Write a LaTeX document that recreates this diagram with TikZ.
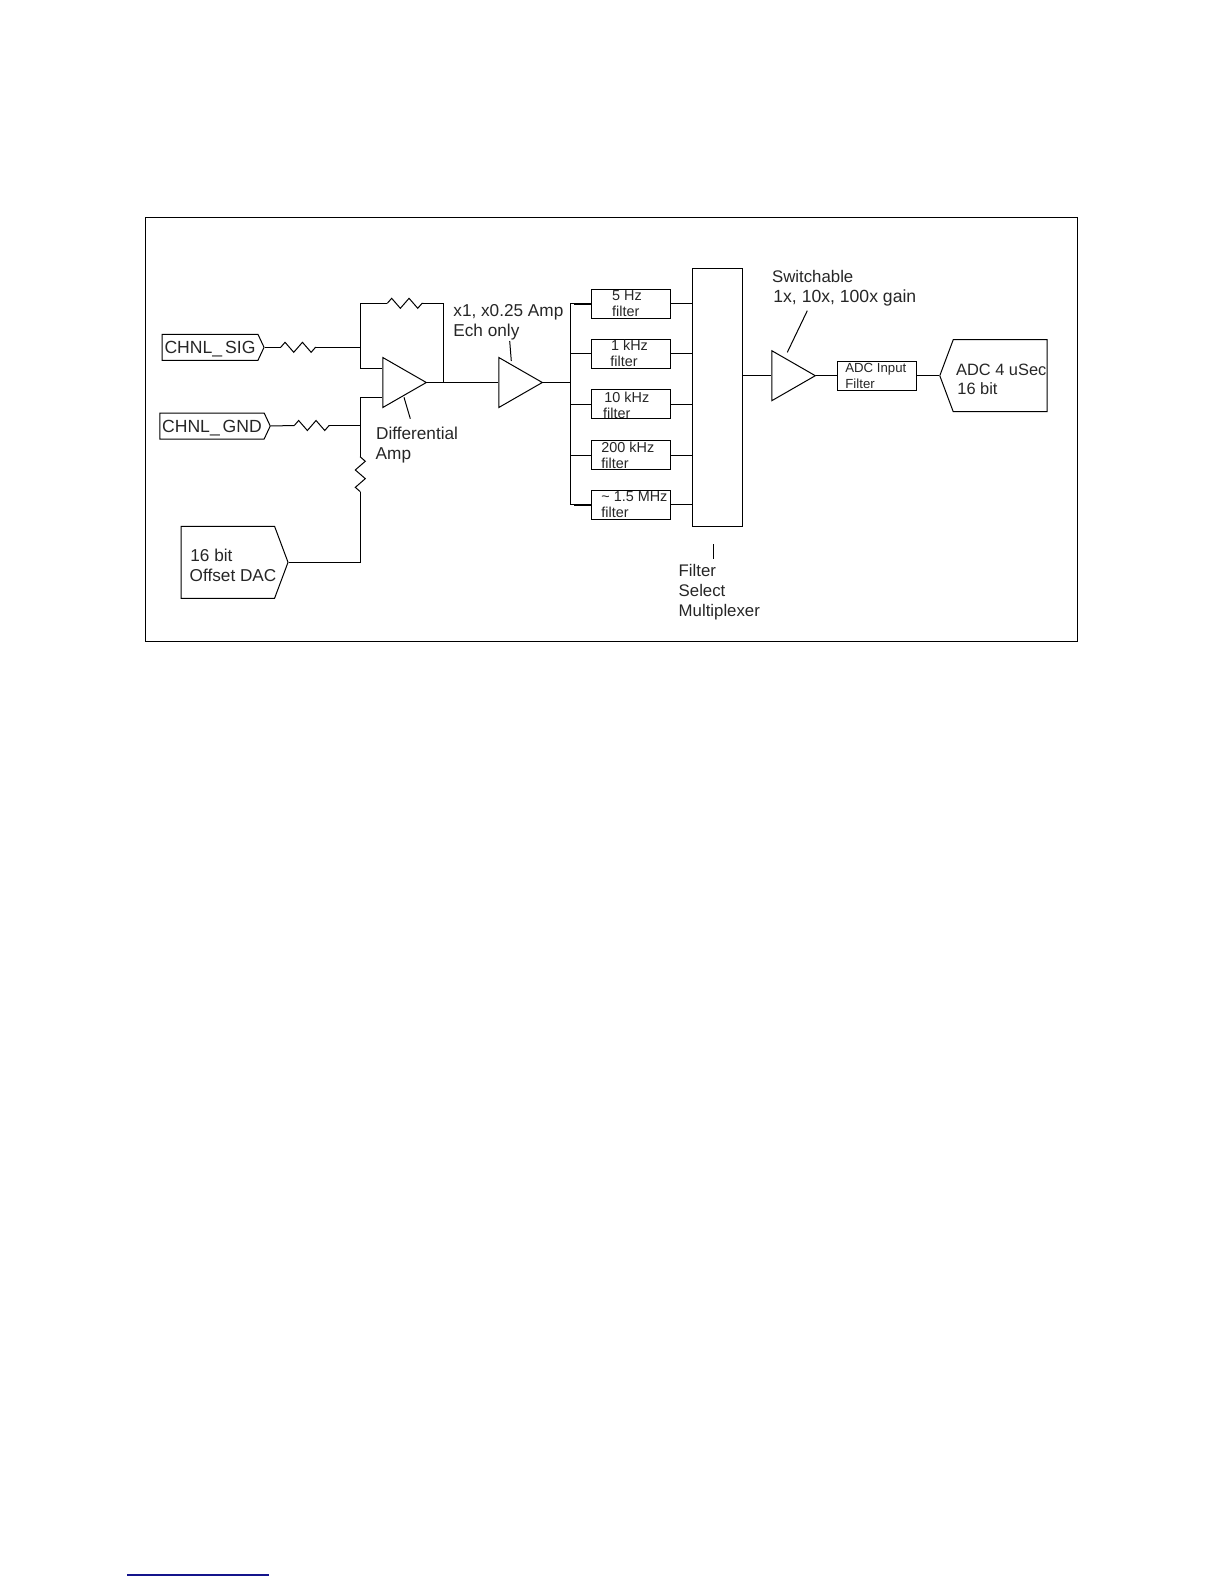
\documentclass[tikz,border=0pt]{standalone}
\usepackage{fontspec}
\setmainfont{Liberation Sans}
\usetikzlibrary{shapes.geometric,shapes.symbols,decorations.pathmorphing}
\definecolor{linkblue}{RGB}{20,20,140}
\tikzset{
  wire/.style={line width=0.5pt},
  res/.style={line width=0.5pt,decorate,decoration={zigzag,segment length=8.7pt,amplitude=2.5pt}},
  amp/.style={draw,line width=0.5pt,isosceles triangle,isosceles triangle apex angle=60,isosceles triangle stretches,
    minimum width=25pt,minimum height=21.75pt,inner sep=0pt,anchor=lower side},
  filterbox/.style={draw,line width=0.5pt,minimum width=39.5pt,minimum height=14.5pt,inner sep=0pt},
  lbl/.style={anchor=west,inner sep=0pt,font=\fontsize{8.6}{10}\selectfont,text height=6pt,text depth=0pt,text=black!85},
  sml/.style={lbl,font=\fontsize{7.2}{8}\selectfont,text height=5pt},
  sig/.style={draw,line width=0.5pt,signal,signal to=east,inner sep=0pt,font=\fontsize{8.8}{10}\selectfont,text height=6pt,text depth=0pt,text=black!85},
}
\begin{document}
\begin{tikzpicture}[x=0.5pt,y=-0.5pt]
\useasboundingbox (0,0) rectangle (1224,1584);
\draw[line width=0.5pt] (145.5,217) rectangle (1077.5,641);
% inputs
\node[sig,minimum width=51pt,minimum height=13pt,signal pointer angle=130] (sigin) at (210,347.3) {CHNL\_\,SIG};
\node[sig,minimum width=55.2pt,minimum height=13pt,signal pointer angle=130] (gndin) at (212,426) {CHNL\_\,GND};
\node[sig,minimum width=53.5pt,minimum height=36pt,signal pointer angle=139] (dac) at (227.8,562.3) {};
\node[lbl] (tdac1) at (190,555) {16 bit};
\node[lbl] (tdac2) at (189.3,575) {Offset DAC};
% resistors
\coordinate (r1a) at (280.7,347.3);
\coordinate (r1b) at (316,347.3);
\coordinate (r2a) at (294.3,425.5);
\coordinate (r2b) at (330,425.5);
\coordinate (r3a) at (360.3,456.7);
\coordinate (r3b) at (360.3,491.7);
\coordinate (r4a) at (387.3,303.3);
\coordinate (r4b) at (423.3,303.3);
\coordinate (j1) at (360.3,347.3);
\coordinate (j2) at (360.3,425.5);
\coordinate (j3) at (443.3,382.5);
\coordinate (fbl) at (360.3,303.3);
\coordinate (fbr) at (443.3,303.3);
\coordinate (ip) at (382.3,368.3);
\coordinate (in) at (382.3,397);
\coordinate (ipc) at (360.3,368.3);
\coordinate (inc) at (360.3,397);
\coordinate (dacc) at (360.3,562.3);
% amps
\node[amp] (diffamp) at (382.3,382.5) {};
\node[amp] (gainamp) at (498.3,382.5) {};
\node[amp] (swamp) at (771.3,375.7) {};
\draw[wire] (sigin.east) -- (r1a);
\draw[res] (r1a) -- (r1b);
\draw[wire] (r1b) -- (j1);
\draw[wire] (gndin.east) -- (r2a);
\draw[res] (r2a) -- (r2b);
\draw[wire] (r2b) -- (j2);
\draw[wire] (dac.east) -- (dacc) -- (r3b);
\draw[res] (r3b) -- (r3a);
\draw[wire] (r3a) -- (inc) -- (in);
\draw[wire] (ip) -- (ipc) -- (fbl) -- (r4a);
\draw[res] (r4a) -- (r4b);
\draw[wire] (r4b) -- (fbr) -- (j3);
\draw[wire] (diffamp.apex) -- (gainamp.lower side);
% filters
\node[filterbox] (f5) at (630.8,303.8) {};
\node[filterbox] (f1k) at (630.8,353.8) {};
\node[filterbox] (f10k) at (630.8,404.3) {};
\node[filterbox] (f200k) at (630.8,455) {};
\node[filterbox] (f15m) at (630.8,504.8) {};
\node[draw,line width=0.5pt,minimum width=25.2pt,minimum height=129pt,inner sep=0pt] (mux) at (717.5,397.3) {};
\coordinate (busa) at (570.3,303.8);
\coordinate (busb) at (570.3,353.8);
\coordinate (busc) at (570.3,404.3);
\coordinate (busd) at (570.3,455);
\coordinate (buse) at (570.3,504.8);
\coordinate (busm) at (570.3,382.5);
\coordinate (stuba) at (573.5,303.8);
\coordinate (stube) at (573.5,504.8);
\draw[wire] (busa) -- (buse);
\draw[wire] (gainamp.apex) -- (busm);
\draw[wire] (busa) -- (stuba);
\draw[line width=1pt] (stuba) -- (f5.west);
\draw[wire] (busb) -- (f1k.west);
\draw[wire] (busc) -- (f10k.west);
\draw[wire] (busd) -- (f200k.west);
\draw[wire] (buse) -- (stube);
\draw[line width=1pt] (stube) -- (f15m.west);
\draw[wire] (f5.east) -- (f5.east -| mux.west);
\draw[wire] (f1k.east) -- (f1k.east -| mux.west);
\draw[wire] (f10k.east) -- (f10k.east -| mux.west);
\draw[wire] (f200k.east) -- (f200k.east -| mux.west);
\draw[wire] (f15m.east) -- (f15m.east -| mux.west);
\node[sml] (t5a) at (611.7,295) {5 Hz};
\node[sml] (t5b) at (611.7,311) {filter};
\node[sml] (t1a) at (610.7,345.7) {1 kHz};
\node[sml] (t1b) at (610,361.7) {filter};
\node[sml] (t10a) at (604,397) {10 kHz};
\node[sml] (t10b) at (602.7,413.7) {filter};
\node[sml] (t200a) at (601,447.7) {200 kHz};
\node[sml] (t200b) at (601,463.7) {filter};
\node[sml] (t15a) at (601,496) {\~{} 1.5 MHz};
\node[sml] (t15b) at (601,512) {filter};
% output side
\node[filterbox] (adcfilt) at (876.8,375.7) {};
\node[sig,signal to=west,minimum width=53.7pt,minimum height=36pt,signal pointer angle=139] (adc) at (1000.2,375.7) {};
\draw[wire] (mux.east |- swamp.lower side) -- (swamp.lower side);
\draw[wire] (swamp.apex) -- (adcfilt.west);
\draw[wire] (adcfilt.east) -- (adc.west);
\node[sml,font=\fontsize{6.6}{8}\selectfont] (tfa) at (845,367) {ADC Input};
\node[sml,font=\fontsize{6.6}{8}\selectfont] (tfb) at (845,383) {Filter};
\node[lbl,font=\fontsize{8.2}{10}\selectfont] (tad1) at (955.7,369) {ADC 4 uSec};
\node[lbl,font=\fontsize{8.2}{10}\selectfont] (tad2) at (957,388.7) {16 bit};
% labels
\node[lbl] (tdiff) at (375.7,433.7) {Differential};
\node[lbl] (tdamp) at (375.3,453.7) {Amp};
\node[lbl] (tx1) at (453,310) {x1, x0.25 Amp};
\node[lbl] (tech) at (453,330) {Ech only};
\node[lbl,font=\fontsize{8.4}{10}\selectfont] (tsw) at (771.7,276) {Switchable};
\node[lbl,font=\fontsize{8.8}{10}\selectfont] (tgain) at (773,296) {1x, 10x, 100x gain};
\node[lbl,font=\fontsize{8.4}{10}\selectfont] (tmuxa) at (678.3,570) {Filter};
\node[lbl,font=\fontsize{8.4}{10}\selectfont] (tmuxb) at (678.3,590) {Select};
\node[lbl,font=\fontsize{8.4}{10}\selectfont] (tmuxc) at (678.3,610) {Multiplexer};
% leaders
\coordinate (ld1) at (404,397.3);
\coordinate (ld2) at (410.3,418.7);
\coordinate (ld3) at (509.7,341);
\coordinate (ld4) at (511.3,361);
\coordinate (ld5) at (807.3,310.7);
\coordinate (ld6) at (787.3,352.3);
\coordinate (ld7) at (713.3,544);
\coordinate (ld8) at (713.3,558.7);
\draw[wire] (ld1) -- (ld2);
\draw[wire] (ld3) -- (ld4);
\draw[wire] (ld5) -- (ld6);
\draw[wire] (ld7) -- (ld8);
% link rule at page foot
\draw[linkblue,line width=0.6pt] (127,1575) -- (268.7,1575);
\end{tikzpicture}
\end{document}
